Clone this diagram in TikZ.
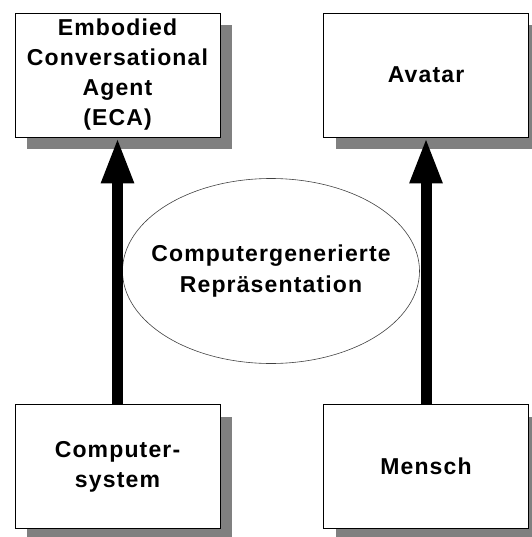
\documentclass[tikz,border=0pt]{standalone}
\usepackage{fontspec}
\setmainfont{Liberation Sans}[LetterSpace=5]
\usetikzlibrary{shapes.geometric,shadows,arrows.meta}
\begin{document}
\begin{tikzpicture}[x=1pt,y=-1pt,
  box/.style={draw=black, line width=0.8pt, fill=white, minimum width=205pt, minimum height=124pt,
    align=center, inner sep=0pt, font=\fontsize{23}{30}\selectfont\bfseries,
    drop shadow={shadow xshift=12pt, shadow yshift=-12pt, fill=black!50, opacity=1}},
  oval/.style={ellipse, draw=black!75, line width=0.6pt, minimum width=297pt, minimum height=185pt,
    inner sep=0pt},
  ovaltext/.style={align=center, inner sep=0pt, font=\fontsize{23}{31}\selectfont\bfseries},
  bigarrow/.style={line width=11pt, -{Triangle[width=30pt,length=46pt]}}]
\useasboundingbox (0,0) rectangle (531,537);
\node[oval, label={[ovaltext, name=crt]center:Computergenerierte\\Repräsentation}] (cr) at (271,271) {};
\node[box] (eca) at (117.5,75) {Embodied\\Conversational\\Agent\\(ECA)};
\node[box] (ava) at (426,75) {Avatar};
\node[box] (cs) at (117.5,466.5) {Computer-\\system};
\node[box] (me) at (426,466.5) {Mensch};
\draw[bigarrow] (cs.north) -- (eca.south);
\draw[bigarrow] (me.north) -- (ava.south);
\end{tikzpicture}
\end{document}
